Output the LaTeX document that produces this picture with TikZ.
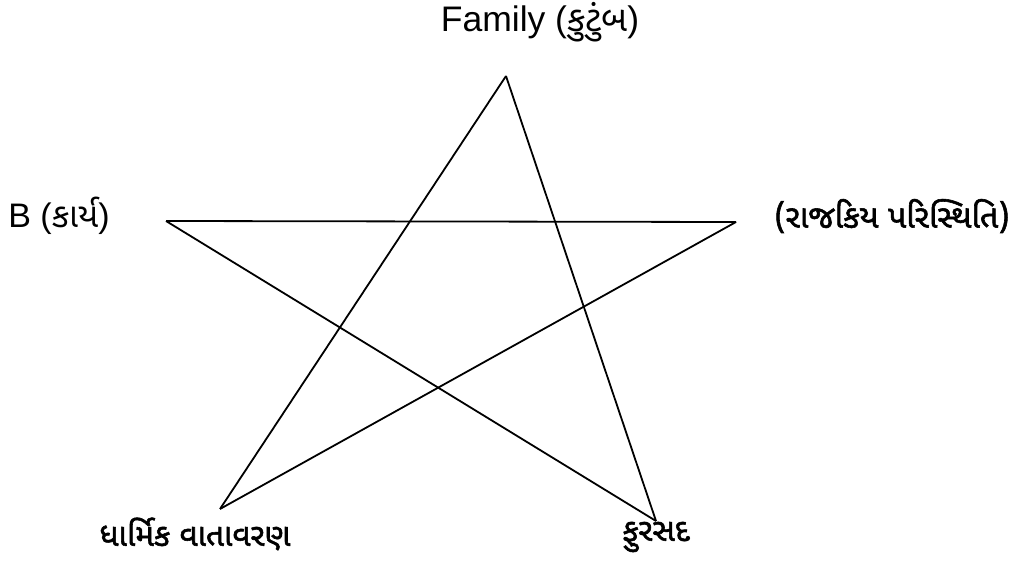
\documentclass[tikz,border=0pt]{standalone}
\usepackage{fontspec}
\setmainfont{Liberation Sans}
\newfontfamily\guj[Script=Gujarati]{Noto Sans Gujarati UI}
\newfontfamily\gujb[Script=Gujarati,FakeBold=1.8]{Noto Sans Gujarati UI}
\begin{document}
\begin{tikzpicture}[x=1pt,y=-1pt,
  edge/.style={line width=1.8pt, line join=miter},
  lbl/.style={inner sep=0pt, anchor=center, font=\fontsize{34}{38}\selectfont},
  glbl/.style={inner sep=0pt, anchor=center, font=\fontsize{32}{36}\selectfont\gujb}]
\useasboundingbox (0,0) rectangle (1015,561);
\coordinate (T) at (506,76);
\coordinate (L) at (166,221);
\coordinate (R) at (736,222);
\coordinate (BL) at (220,509);
\coordinate (BR) at (656,521);
\draw[edge] (T) -- (BL);
\draw[edge] (T) -- (BR);
\draw[edge] (L) -- (R);
\draw[edge] (L) -- (BR);
\draw[edge] (R) -- (BL);
\node[lbl, font=\fontsize{35.5}{40}\selectfont] (family) at (540,22) {Family ({\guj કુટુંબ})};
\node[lbl] (work) at (59,216) {B ({\guj કાર્ય})};
\node[glbl] (pol) at (892,216) {(રાજકિય પરિસ્થિતિ)};
\node[glbl, font=\fontsize{31.5}{36}\selectfont\gujb] (rel) at (195,534) {ધાર્મિક વાતાવરણ};
\node[glbl, font=\fontsize{31.5}{36}\selectfont\gujb] (leis) at (656,537) {ફુરસદ};
\end{tikzpicture}
\end{document}
